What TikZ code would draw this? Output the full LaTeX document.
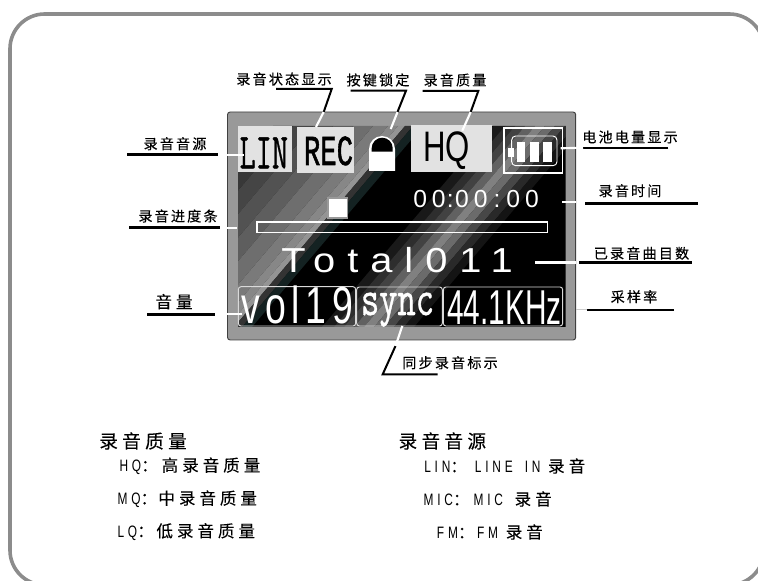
\documentclass[tikz,border=0pt]{standalone}
\usepackage{fontspec}
\newfontfamily\cjk[LetterSpace=15,RawFeature={embolden=0.15}]{Noto Sans CJK SC}
\newfontfamily\cjkhead[LetterSpace=23,RawFeature={embolden=0.15}]{Noto Sans CJK SC}
\newfontfamily\cjkitem[LetterSpace=24,RawFeature={embolden=0.15}]{Noto Sans CJK SC}
\newfontfamily\lcdsans{Liberation Sans}
\newfontfamily\lcdmono[RawFeature={embolden=1.5}]{Liberation Mono}
\newfontfamily\lcdslab[RawFeature={embolden=1}]{Latin Modern Mono}
\newfontfamily\lcdclock[LetterSpace=20]{Liberation Sans}
\newfontfamily\lcdtotal[LetterSpace=30]{Liberation Sans}
\newfontfamily\lcdvol[LetterSpace=15]{Liberation Sans}
\newfontfamily\itemlatin[LetterSpace=32]{Liberation Sans}
\newcommand{\squeezed}[3]{\scalebox{#1}[1]{\fontsize{#2}{#2}\selectfont #3}}
\newcommand{\narrowlatin}[1]{\scalebox{0.72}[1]{\itemlatin #1}}
\definecolor{framegray}{HTML}{8C8C8C}
\definecolor{bezelgray}{HTML}{999999}
\definecolor{lightpanel}{HTML}{E2E2E2}
\definecolor{tealdark}{HTML}{142222}
\tikzset{
    labeltext/.style={inner sep=0pt, font={\fontsize{10.6}{12}\selectfont\cjk}},
    headtext/.style={inner sep=0pt, anchor=west, font={\fontsize{14}{16}\selectfont\cjkhead}},
    itemtext/.style={inner sep=0pt, anchor=west, font={\fontsize{12.4}{14}\selectfont\cjkitem}},
    lcdglyph/.style={inner sep=0pt, anchor=base, text=white},
    panelglyph/.style={inner sep=0pt, anchor=base, text=black},
    inkline/.style={line width=2.2pt},
    inkthin/.style={line width=1.5pt},
    lcdline/.style={white, line width=1.6pt},
    lcdframe/.style={white!85!black, line width=0.7pt, rounded corners=2pt}
}
\begin{document}
\begin{tikzpicture}[x=0.75pt, y=-0.75pt]
    \useasboundingbox (0, 0) rectangle (758, 581);
    \clip (0, 0) rectangle (758, 581);
    \draw[framegray, line width=2.7pt, rounded corners=26pt] (10, 14) rectangle (764, 585);

    \draw[fill=bezelgray, draw=black!75, line width=0.7pt, rounded corners=2pt] (227.5, 112) rectangle (575.7, 340);
    \begin{scope}
        \clip (238, 126) rectangle (565.7, 327);
        \fill[black] (238, 126) rectangle (565.7, 327);
        \foreach \s/\e/\g in {380/400/22, 400/420/27, 420/440/32, 440/460/37, 460/480/43, 480/495/48, 495/505/53, 505/512/58, 512/520/20, 600/612/10, 612/622/18, 622/632/26, 632/642/38, 642/652/50, 652/662/42, 662/672/28, 672/682/16, 682/692/8} {
            \fill[white!\g!black] ({\s - 107}, 126) -- ({\e - 107}, 126) -- ({\e - 278}, 327) -- ({\s - 278}, 327) -- cycle;
        }
        \fill[tealdark] ({520 - 107}, 126) -- ({530 - 107}, 126) -- ({530 - 278}, 327) -- ({520 - 278}, 327) -- cycle;
    \end{scope}

    \fill[lightpanel] (238, 126) rectangle (291.7, 172);
    \fill[lightpanel] (296.7, 127) rectangle (354, 173);
    \fill[lightpanel] (411, 125) rectangle (491.7, 172);
    \node[panelglyph] (lin) at (263.8, 168.3) {\squeezed{0.62}{38}{\lcdslab LIN}};
    \node[panelglyph] (rec) at (328.5, 165) {\squeezed{0.64}{32}{\lcdmono REC}};
    \node[panelglyph] (hq) at (446.5, 161.7) {\squeezed{0.73}{32}{\lcdsans HQ}};

    \fill[white] (369, 171) -- (369, 149) arc[start angle=180, end angle=360, radius=13] -- (395, 171) -- cycle;
    \fill[black] (371.7, 151.7) -- (371.7, 148.2) arc[start angle=180, end angle=360, radius=10.5] -- (392.7, 151.7) -- cycle;

    \draw[white, line width=0.8pt] (504, 128) rectangle (562.7, 173);
    \draw[white, line width=0.7pt, rounded corners=3pt] (511.7, 136) rectangle (557, 165.7);
    \fill[white] (507.7, 147.7) rectangle (514.3, 156.7);
    \foreach \x in {516.7, 530, 543} {
        \fill[white] (\x, 141.7) rectangle ({\x + 8.5}, 161.7);
    }

    \node[lcdglyph] (clock) at (476, 207.7) {\squeezed{1}{18.5}{\lcdclock 00\hspace{1pt}:\hspace{1pt}00\hspace{4.5pt}:\hspace{4.5pt}00}};
    \draw[fill=white, draw=black!40, line width=0.9pt] (328, 198) rectangle (347.7, 218);
    \draw[white, line width=0.8pt] (257, 222) rectangle (547.3, 232.3);
    \node[lcdglyph] (total) at (397, 273) {\squeezed{1.15}{26}{\lcdtotal Total011}};

    \draw[lcdframe] (238.3, 286.7) rectangle (355.7, 326);
    \draw[lcdframe] (356.7, 287) rectangle (442.3, 326);
    \draw[lcdframe] (443.3, 287) rectangle (562.7, 326);
    \node[lcdglyph] (vol) at (297, 324) {\squeezed{0.72}{39}{\lcdvol vol19}};
    \node[lcdglyph] (sync) at (397.5, 315) {\squeezed{0.7}{38}{\lcdslab sync}};
    \node[lcdglyph] (rate) at (504.3, 325) {\squeezed{0.61}{36.7}{\lcdsans 44.1KHz}};

    \node[labeltext] (statuslabel) at (284, 79) {录音状态显示};
    \node[labeltext] (locklabel) at (378, 80) {按键锁定};
    \node[labeltext] (qualitylabel) at (455, 80) {录音质量};
    \node[labeltext] (batterylabel) at (630, 137) {电池电量显示};
    \node[labeltext] (timelabel) at (630, 190.7) {录音时间};
    \node[labeltext] (sourcelabel) at (175, 143.7) {录音音源};
    \node[labeltext] (progresslabel) at (178, 216) {录音进度条};
    \node[inner sep=0pt, font={\fontsize{12.5}{14}\selectfont\cjkhead}] (volumelabel) at (174, 301.7) {音量};
    \node[labeltext] (synclabel) at (450, 362.7) {同步录音标示};
    \node[labeltext] (countlabel) at (641.5, 253.3) {已录音曲目数};
    \node[labeltext] (ratelabel) at (634, 296.7) {采样率};

    \coordinate (statusa) at (276, 89);
    \coordinate (statusb) at (331.7, 89);
    \coordinate (statusc) at (323.7, 112);
    \coordinate (statusd) at (316, 127);
    \draw[inkthin] (statusa) -- (statusb) -- (statusc);
    \draw[lcdline] (statusc) -- (statusd);

    \coordinate (locka) at (350.7, 90.7);
    \coordinate (lockb) at (406, 90.7);
    \coordinate (lockc) at (397.5, 112);
    \coordinate (lockd) at (390.7, 129);
    \draw[inkthin] (locka) -- (lockb) -- (lockc);
    \draw[lcdline] (lockc) -- (lockd);

    \coordinate (qualitya) at (422.7, 91);
    \coordinate (qualityb) at (478.3, 91);
    \coordinate (qualityc) at (470.7, 112);
    \coordinate (qualityd) at (462.3, 130.7);
    \draw[inkthin] (qualitya) -- (qualityb) -- (qualityc);
    \draw[lcdline] (qualityc) -- (qualityd);

    \coordinate (batterya) at (668.3, 147.7);
    \coordinate (batteryb) at (583, 147.7);
    \coordinate (batteryc) at (560.7, 148.3);
    \draw[inkthin] (batterya) -- (batteryb);
    \draw[lcdline] (batteryb) -- (batteryc);

    \coordinate (timea) at (697.7, 203.3);
    \coordinate (timeb) at (585, 203.3);
    \coordinate (timec) at (576, 202.3);
    \coordinate (timed) at (562.3, 202.3);
    \draw[inkline] (timea) -- (timeb);
    \draw[lcdline] (timec) -- (timed);

    \coordinate (sourcea) at (127.3, 154.7);
    \coordinate (sourceb) at (218.3, 154.7);
    \coordinate (sourcec) at (226.7, 154.7);
    \coordinate (sourced) at (244, 154.7);
    \draw[inkline] (sourcea) -- (sourceb);
    \draw[lcdline] (sourcec) -- (sourced);

    \coordinate (progressa) at (129.3, 227.7);
    \coordinate (progressb) at (220, 227.7);
    \coordinate (progressc) at (226.7, 227.7);
    \coordinate (progressd) at (236.7, 227.7);
    \draw[inkline] (progressa) -- (progressb);
    \draw[lcdline] (progressc) -- (progressd);

    \coordinate (volumea) at (147.3, 314.3);
    \coordinate (volumeb) at (215, 314.3);
    \coordinate (volumec) at (226.7, 314);
    \coordinate (volumed) at (241.7, 314);
    \draw[inkline] (volumea) -- (volumeb);
    \draw[lcdline] (volumec) -- (volumed);

    \coordinate (synca) at (437.7, 374.3);
    \coordinate (syncb) at (382.7, 374.3);
    \coordinate (syncc) at (395.5, 346);
    \coordinate (syncd) at (402.3, 326);
    \draw[inkthin] (synca) -- (syncb) -- (syncc);
    \draw[lcdline] (syncc) -- (syncd);

    \coordinate (counta) at (691.7, 262.3);
    \coordinate (countb) at (579, 262.3);
    \coordinate (countc) at (576, 262.3);
    \coordinate (countd) at (535, 262.3);
    \draw[inkline] (counta) -- (countb);
    \draw[white, line width=2.2pt] (countc) -- (countd);

    \coordinate (ratea) at (674, 309.7);
    \coordinate (rateb) at (587.3, 309.7);
    \coordinate (ratec) at (576, 309.7);
    \draw[inkthin] (ratea) -- (rateb);
    \draw[black!20, line width=1.2pt] (rateb) -- (ratec);

    \node[headtext] (qualityhead) at (99, 441) {录音质量};
    \node[itemtext] (itemhq) at (119.3, 466) {\narrowlatin{HQ}：高录音质量};
    \node[itemtext] (itemmq) at (117.3, 499) {\narrowlatin{MQ}：\hspace{1pt}中录音质量};
    \node[itemtext] (itemlq) at (117.3, 531.7) {\narrowlatin{LQ}：\hspace{2pt}低录音质量};
    \node[headtext] (sourcehead) at (398.3, 441) {录音音源};
    \node[itemtext] (itemlin) at (424, 466) {\narrowlatin{LIN}：\hspace{6pt}\narrowlatin{LINE\hspace{5pt} IN} 录音};
    \node[itemtext] (itemmic) at (423.3, 499) {\narrowlatin{MIC}：\hspace{3pt}\narrowlatin{MIC}\hspace{3pt} 录音};
    \node[itemtext] (itemfm) at (436.7, 532) {\narrowlatin{FM}：\hspace{2pt}\narrowlatin{FM} 录音};
\end{tikzpicture}
\end{document}
